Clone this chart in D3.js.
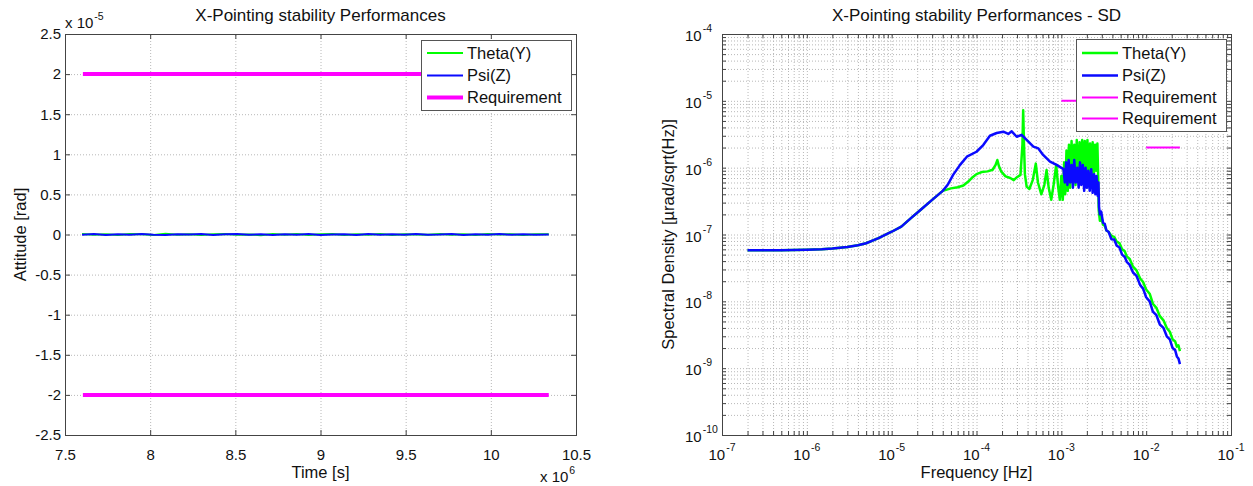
<!DOCTYPE html>
<html>
<head>
<meta charset="utf-8">
<script src="https://cdn.jsdelivr.net/npm/d3@7"></script>
<style>
  body { margin: 0; background: #fff; }
  svg { display: block; font-family: "Liberation Sans", Arial, Helvetica, sans-serif; }
</style>
</head>
<body>
<svg id="chart" width="1253" height="486"></svg>
<script>
// ---------------- data: attitude time history ----------------
const timeSec = [7.60e6, 7.67e6, 7.74e6, 7.81e6, 7.88e6, 7.95e6, 8.02e6, 8.09e6, 8.16e6, 8.23e6,
                 8.30e6, 8.37e6, 8.44e6, 8.51e6, 8.58e6, 8.65e6, 8.72e6, 8.79e6, 8.86e6, 8.93e6,
                 9.00e6, 9.07e6, 9.14e6, 9.21e6, 9.28e6, 9.35e6, 9.42e6, 9.49e6, 9.56e6, 9.63e6,
                 9.70e6, 9.77e6, 9.84e6, 9.91e6, 9.98e6, 10.05e6, 10.12e6, 10.19e6, 10.26e6, 10.34e6];
const thetaAtt = [6e-8, -4e-8, 3e-8, -7e-8, 5e-8, 2e-8, -5e-8, 8e-8, -3e-8, 4e-8,
                  -6e-8, 2e-8, 7e-8, -4e-8, 1e-8, -8e-8, 5e-8, -2e-8, 6e-8, -5e-8,
                  3e-8, 7e-8, -6e-8, 2e-8, -3e-8, 5e-8, -7e-8, 4e-8, 1e-8, -4e-8,
                  6e-8, -2e-8, 3e-8, -6e-8, 5e-8, -1e-8, 4e-8, -5e-8, 2e-8, 3e-8];
const psiAtt = [-3e-8, 5e-8, -6e-8, 2e-8, -4e-8, 7e-8, -2e-8, -5e-8, 4e-8, -1e-8,
                6e-8, -7e-8, 3e-8, 5e-8, -4e-8, 2e-8, -6e-8, 4e-8, -3e-8, 7e-8,
                -5e-8, 1e-8, 4e-8, -6e-8, 5e-8, -2e-8, 3e-8, -4e-8, 6e-8, -3e-8,
                -1e-8, 5e-8, -5e-8, 2e-8, -3e-8, 6e-8, -4e-8, 3e-8, -2e-8, 1e-8];
const attRequirement = [2e-5, -2e-5];
const reqTimeSpan = [7.605e6, 10.34e6];
const timeTickLabels = ["7.5", "8", "8.5", "9", "9.5", "10", "10.5"];      // x 10^6 s
const attTickLabels = ["-2.5", "-2", "-1.5", "-1", "-0.5", "0", "0.5", "1", "1.5", "2", "2.5"]; // x 10^-5 rad

// ---------------- data: spectral density ----------------
const thetaFreq = [2e-7, 3e-7, 5e-7, 7e-7, 1e-6, 1.5e-6, 2e-6, 3e-6, 4e-6, 5e-6, 7e-6, 1e-5, 1.3e-5, 1.7e-5, 2.2e-5, 3e-5, 4e-5,
  5e-5, 6e-5, 7e-5, 8e-5, 9e-5, 1e-4, 1.15e-4, 1.35e-4, 1.55e-4, 1.68e-4, 1.76e-4, 1.84e-4, 1.95e-4, 2.2e-4, 2.5e-4, 2.75e-4,
  3.0e-4, 3.3e-4, 3.48e-4, 3.55e-4, 3.62e-4, 3.72e-4, 3.9e-4, 4.2e-4, 4.6e-4, 5.0e-4, 5.3e-4, 5.8e-4, 6.3e-4, 6.7e-4, 7.1e-4,
  7.6e-4, 8.1e-4, 8.7e-4, 9.2e-4, 9.6e-4, 1.0e-3, 1.04e-3, 1.08e-3, 1.11e-3, 1.15e-3, 1.19e-3, 1.23e-3, 1.27e-3, 1.32e-3,
  1.37e-3, 1.42e-3, 1.47e-3, 1.52e-3, 1.58e-3, 1.64e-3, 1.70e-3, 1.76e-3, 1.82e-3, 1.89e-3, 1.96e-3, 2.03e-3, 2.10e-3,
  2.18e-3, 2.26e-3, 2.34e-3, 2.42e-3, 2.50e-3, 2.58e-3, 2.66e-3, 2.72e-3, 2.76e-3, 2.85e-3, 2.95e-3, 3.1e-3, 3.25e-3,
  3.4e-3, 3.6e-3, 3.9e-3, 4.2e-3, 4.5e-3, 4.85e-3, 5.2e-3, 5.6e-3, 5.9e-3, 6.4e-3, 7e-3, 7.7e-3, 8.5e-3, 9.2e-3, 1e-2,
  1.1e-2, 1.2e-2, 1.32e-2, 1.45e-2, 1.6e-2, 1.75e-2, 1.9e-2, 2.05e-2, 2.2e-2, 2.3e-2, 2.4e-2, 2.5e-2];
const thetaSD = [5.8e-8, 5.8e-8, 5.8e-8, 5.85e-8, 5.9e-8, 6.0e-8, 6.15e-8, 6.5e-8, 6.9e-8, 7.4e-8, 8.8e-8, 1.1e-7, 1.31e-7, 1.77e-7, 2.35e-7, 3.3e-7, 4.5e-7,
  4.9e-7, 5.1e-7, 5.4e-7, 6.2e-7, 7.2e-7, 8.0e-7, 8.6e-7, 8.8e-7, 9.3e-7, 1.1e-6, 1.3e-6, 1.05e-6, 8.8e-7, 7.4e-7, 7.0e-7, 6.5e-7,
  7.2e-7, 7.8e-7, 2.2e-6, 7.2e-6, 2.5e-6, 8e-7, 5.2e-7, 4.8e-7, 6.5e-7, 1.15e-6, 6e-7, 4e-7, 5.5e-7, 9.2e-7, 5e-7,
  3.3e-7, 5.5e-7, 1.1e-6, 5e-7, 3.3e-7, 7.5e-7, 3.3e-7, 1.2e-6, 4e-7, 1.8e-6, 4.5e-7, 2.2e-6, 5e-7, 2.5e-6,
  6e-7, 2.2e-6, 5.5e-7, 2.6e-6, 6.5e-7, 2.4e-6, 7e-7, 2.6e-6, 6e-7, 2.5e-6, 8e-7, 2.6e-6, 7e-7,
  2.3e-6, 6.5e-7, 2.4e-6, 8e-7, 2.2e-6, 9e-7, 2.3e-6, 7e-7, 2.3e-7, 1.6e-7, 1.9e-7, 1.4e-7, 1.35e-7,
  1.15e-7, 1.1e-7, 9.5e-8, 9.2e-8, 7.8e-8, 7.4e-8, 6.0e-8, 5.6e-8, 4.7e-8, 4.3e-8, 3.3e-8, 2.9e-8, 2.2e-8, 1.95e-8, 1.5e-8,
  1.3e-8, 9.2e-9, 8.0e-9, 6.0e-9, 5.2e-9, 4.0e-9, 3.5e-9, 2.7e-9, 2.5e-9, 2.1e-9, 2.2e-9, 1.8e-9];

const psiFreq = [2e-7, 3e-7, 5e-7, 7e-7, 1e-6, 1.5e-6, 2e-6, 3e-6, 4e-6, 5e-6, 7e-6, 1e-5, 1.3e-5, 1.7e-5, 2.2e-5, 3e-5, 4e-5,
  4.6e-5, 5.3e-5, 6.4e-5, 7.7e-5, 1e-4, 1.2e-4, 1.44e-4, 1.73e-4, 2.07e-4, 2.37e-4, 2.6e-4, 2.98e-4, 3.4e-4, 3.9e-4, 4.68e-4,
  5.36e-4, 6.1e-4, 7.36e-4, 8.8e-4, 1.06e-3, 1.10e-3, 1.14e-3, 1.18e-3, 1.22e-3, 1.27e-3, 1.32e-3, 1.37e-3, 1.42e-3, 1.48e-3,
  1.54e-3, 1.60e-3, 1.66e-3, 1.72e-3, 1.79e-3, 1.86e-3, 1.93e-3, 2.00e-3, 2.08e-3, 2.16e-3, 2.25e-3, 2.34e-3, 2.43e-3, 2.52e-3,
  2.60e-3, 2.68e-3, 2.74e-3, 2.78e-3, 2.85e-3, 2.95e-3, 3.1e-3, 3.25e-3, 3.4e-3, 3.6e-3, 3.9e-3, 4.2e-3, 4.5e-3, 4.85e-3,
  5.2e-3, 5.6e-3, 5.9e-3, 6.4e-3, 7e-3, 7.7e-3, 8.5e-3, 9.2e-3, 1e-2, 1.1e-2, 1.2e-2, 1.32e-2, 1.45e-2, 1.6e-2, 1.75e-2,
  1.9e-2, 2.05e-2, 2.2e-2, 2.3e-2, 2.4e-2, 2.5e-2];
const psiSD = [5.8e-8, 5.8e-8, 5.8e-8, 5.85e-8, 5.9e-8, 6.0e-8, 6.15e-8, 6.5e-8, 6.9e-8, 7.4e-8, 8.8e-8, 1.1e-7, 1.31e-7, 1.77e-7, 2.35e-7, 3.3e-7, 4.5e-7,
  5.6e-7, 7.8e-7, 1.1e-6, 1.46e-6, 1.73e-6, 2.18e-6, 3.0e-6, 3.3e-6, 3.45e-6, 3.2e-6, 3.5e-6, 2.9e-6, 3.1e-6, 2.6e-6, 2.06e-6,
  1.94e-6, 1.55e-6, 1.23e-6, 1.1e-6, 9.5e-7, 6e-7, 1.2e-6, 5.5e-7, 1.3e-6, 6e-7, 1.1e-6, 5e-7, 1.3e-6, 6e-7,
  1.0e-6, 5e-7, 1.2e-6, 5.5e-7, 1.1e-6, 4.5e-7, 1.0e-6, 5e-7, 9e-7, 4.5e-7, 9.5e-7, 4.2e-7, 8e-7, 4e-7,
  7.5e-7, 3.8e-7, 6e-7, 2.6e-7, 2.0e-7, 2.2e-7, 1.5e-7, 1.45e-7, 1.15e-7, 1.1e-7, 8.5e-8, 8.4e-8, 6.8e-8, 6.4e-8,
  5.0e-8, 4.6e-8, 3.9e-8, 3.5e-8, 2.7e-8, 2.4e-8, 1.75e-8, 1.55e-8, 1.15e-8, 1.0e-8, 7.0e-9, 6.2e-9, 4.5e-9, 4.0e-9, 3.0e-9,
  2.7e-9, 2.0e-9, 1.85e-9, 1.5e-9, 1.4e-9, 1.15e-9];

const sdReqFreqA = [1e-3, 1e-2];   const sdReqLevelA = 1e-5;
const sdReqFreqB = [1e-2, 2.5e-2]; const sdReqLevelB = 2e-6;
const freqExponents = [-7, -6, -5, -4, -3, -2, -1];
const sdExponents = [-10, -9, -8, -7, -6, -5, -4];

// ---------------- layout ----------------
const svg = d3.select("#chart");
const GREEN = "#00ff00", BLUE = "#0a0aff", MAGENTA = "#ff00ff";
const AXIS = "#444", GRID = "#b8b8b8";
const L = { x0: 65, x1: 576, y0: 34, y1: 435 };
const R = { x0: 722, x1: 1231, y0: 34, y1: 435 };

// ================= left panel: attitude =================
const xL = d3.scaleLinear().domain([7.5e6, 10.5e6]).range([L.x0, L.x1]);
const yL = d3.scaleLinear().domain([-2.5e-5, 2.5e-5]).range([L.y1, L.y0]);
const timeTicks = timeTickLabels.map(s => +s * 1e6);
const attTicks = attTickLabels.map(s => +s * 1e-5);

const gL = svg.append("g");
// grid
gL.append("g").attr("transform", `translate(0,${L.y1})`)
  .call(d3.axisBottom(xL).tickValues(timeTicks.slice(1, -1)).tickSize(-(L.y1 - L.y0)).tickFormat(""))
  .call(g => g.select(".domain").remove())
  .selectAll("line").attr("stroke", GRID).attr("stroke-dasharray", "1,2");
gL.append("g").attr("transform", `translate(${L.x0},0)`)
  .call(d3.axisLeft(yL).tickValues(attTicks.slice(1, -1)).tickSize(-(L.x1 - L.x0)).tickFormat(""))
  .call(g => g.select(".domain").remove())
  .selectAll("line").attr("stroke", GRID).attr("stroke-dasharray", "1,2");

// requirement bounds
attRequirement.forEach(r => {
  gL.append("line")
    .attr("x1", xL(reqTimeSpan[0])).attr("x2", xL(reqTimeSpan[1]))
    .attr("y1", yL(r)).attr("y2", yL(r))
    .attr("stroke", MAGENTA).attr("stroke-width", 4);
});
// attitude series
const lineL = d3.line().x((d, i) => xL(timeSec[i])).y(d => yL(d));
gL.append("path").datum(thetaAtt).attr("d", lineL).attr("fill", "none").attr("stroke", GREEN).attr("stroke-width", 2);
gL.append("path").datum(psiAtt).attr("d", lineL).attr("fill", "none").attr("stroke", BLUE).attr("stroke-width", 2);

// axes with inward ticks
const fsTick = 15;
gL.append("g").attr("transform", `translate(0,${L.y1})`)
  .call(d3.axisBottom(xL).tickValues(timeTicks).tickSize(-5).tickPadding(14).tickFormat((d, i) => timeTickLabels[i]))
  .call(g => g.select(".domain").remove())
  .call(g => g.selectAll("text").attr("font-size", fsTick).attr("fill", "#111").attr("font-family", null))
  .selectAll("line").attr("stroke", AXIS);
gL.append("g").attr("transform", `translate(0,${L.y0})`)
  .call(d3.axisTop(xL).tickValues(timeTicks).tickSize(-5).tickFormat(""))
  .call(g => g.select(".domain").remove())
  .selectAll("line").attr("stroke", AXIS);
gL.append("g").attr("transform", `translate(${L.x0},0)`)
  .call(d3.axisLeft(yL).tickValues(attTicks).tickSize(-5).tickPadding(4).tickFormat((d, i) => attTickLabels[i]))
  .call(g => g.select(".domain").remove())
  .call(g => g.selectAll("text").attr("font-size", fsTick).attr("fill", "#111").attr("font-family", null))
  .selectAll("line").attr("stroke", AXIS);
gL.append("g").attr("transform", `translate(${L.x1},0)`)
  .call(d3.axisRight(yL).tickValues(attTicks).tickSize(-5).tickFormat(""))
  .call(g => g.select(".domain").remove())
  .selectAll("line").attr("stroke", AXIS);
gL.append("rect").attr("x", L.x0 + 0.5).attr("y", L.y0 + 0.5)
  .attr("width", L.x1 - L.x0).attr("height", L.y1 - L.y0)
  .attr("fill", "none").attr("stroke", AXIS);

// exponent annotations
const expoTxt = (g, x, y, base, sup) => {
  const t = g.append("text").attr("x", x).attr("y", y).attr("font-size", fsTick).attr("fill", "#111");
  t.append("tspan").text(base);
  t.append("tspan").attr("dy", -8).attr("dx", 1).attr("font-size", 10.5).text(sup);
  return t;
};
expoTxt(gL, L.x0, 28, "x 10", "-5");
expoTxt(gL, 540, 482, "x 10", "6");

// titles / labels
gL.append("text").attr("x", (L.x0 + L.x1) / 2).attr("y", 21).attr("text-anchor", "middle")
  .attr("font-size", 17).attr("fill", "#111").text("X-Pointing stability Performances");
gL.append("text").attr("x", (L.x0 + L.x1) / 2).attr("y", 478).attr("text-anchor", "middle")
  .attr("font-size", 16.5).attr("fill", "#111").text("Time [s]");
gL.append("text").attr("transform", `translate(26,${(L.y0 + L.y1) / 2}) rotate(-90)`).attr("text-anchor", "middle")
  .attr("font-size", 16.5).attr("fill", "#111").text("Attitude [rad]");

// legend
function legend(g, x, y, w, h, items, rowY) {
  g.append("rect").attr("x", x + 0.5).attr("y", y + 0.5).attr("width", w).attr("height", h)
    .attr("fill", "#fff").attr("stroke", "#555");
  items.forEach((it, i) => {
    const yy = rowY[i];
    g.append("line").attr("x1", x + 6).attr("x2", x + 42).attr("y1", yy).attr("y2", yy)
      .attr("stroke", it.color).attr("stroke-width", it.width);
    g.append("text").attr("x", x + 46).attr("y", yy).attr("dy", "0.36em")
      .attr("font-size", 16.5).attr("fill", "#111").text(it.label);
  });
}
legend(gL, 421, 40, 150, 70, [
  { label: "Theta(Y)", color: GREEN, width: 2 },
  { label: "Psi(Z)", color: BLUE, width: 2 },
  { label: "Requirement", color: MAGENTA, width: 4 }
], [53, 75.5, 97.5]);

// ================= right panel: spectral density =================
const xR = d3.scaleLog().domain([1e-7, 1e-1]).range([R.x0, R.x1]);
const yR = d3.scaleLog().domain([1e-10, 1e-4]).range([R.y1, R.y0]);
const gR = svg.append("g");
const xTicksAll = xR.ticks();
const yTicksAll = yR.ticks();
const inner = (arr, dom) => arr.filter(v => v > dom[0] * 1.0001 && v < dom[1] * 0.9999);

gR.append("g").attr("transform", `translate(0,${R.y1})`)
  .call(d3.axisBottom(xR).tickValues(inner(xTicksAll, xR.domain())).tickSize(-(R.y1 - R.y0)).tickFormat(""))
  .call(g => g.select(".domain").remove())
  .selectAll("line").attr("stroke", GRID).attr("stroke-dasharray", "1,2");
gR.append("g").attr("transform", `translate(${R.x0},0)`)
  .call(d3.axisLeft(yR).tickValues(inner(yTicksAll, yR.domain())).tickSize(-(R.x1 - R.x0)).tickFormat(""))
  .call(g => g.select(".domain").remove())
  .selectAll("line").attr("stroke", GRID).attr("stroke-dasharray", "1,2");

// spectra
const lineTheta = d3.line().x((d, i) => xR(thetaFreq[i])).y(d => yR(d));
const linePsi = d3.line().x((d, i) => xR(psiFreq[i])).y(d => yR(d));
gR.append("path").datum(thetaSD).attr("d", lineTheta).attr("fill", "none")
  .attr("stroke", GREEN).attr("stroke-width", 2.5).attr("stroke-linejoin", "round");
gR.append("path").datum(psiSD).attr("d", linePsi).attr("fill", "none")
  .attr("stroke", BLUE).attr("stroke-width", 2.5).attr("stroke-linejoin", "round");

// requirement segments
[[sdReqFreqA, sdReqLevelA], [sdReqFreqB, sdReqLevelB]].forEach(([f, v]) => {
  gR.append("line").attr("x1", xR(f[0])).attr("x2", xR(f[1])).attr("y1", yR(v)).attr("y2", yR(v))
    .attr("stroke", MAGENTA).attr("stroke-width", 2);
});

// inward ticks on all sides
[["axisBottom", R.y1, xR, xTicksAll], ["axisTop", R.y0, xR, xTicksAll]].forEach(([fn, pos, sc, tv]) => {
  gR.append("g").attr("transform", `translate(0,${pos})`)
    .call(d3[fn](sc).tickValues(tv).tickSize(-4).tickFormat(""))
    .call(g => g.select(".domain").remove())
    .selectAll("line").attr("stroke", AXIS);
});
[["axisLeft", R.x0, yR, yTicksAll], ["axisRight", R.x1, yR, yTicksAll]].forEach(([fn, pos, sc, tv]) => {
  gR.append("g").attr("transform", `translate(${pos},0)`)
    .call(d3[fn](sc).tickValues(tv).tickSize(-4).tickFormat(""))
    .call(g => g.select(".domain").remove())
    .selectAll("line").attr("stroke", AXIS);
});
gR.append("rect").attr("x", R.x0 + 0.5).attr("y", R.y0 + 0.5)
  .attr("width", R.x1 - R.x0).attr("height", R.y1 - R.y0)
  .attr("fill", "none").attr("stroke", AXIS);

// power-of-ten tick labels
freqExponents.forEach(e => {
  const t = gR.append("text").attr("x", xR(Math.pow(10, e))).attr("y", 460)
    .attr("text-anchor", "middle").attr("font-size", fsTick).attr("fill", "#111");
  t.append("tspan").text("10");
  t.append("tspan").attr("dy", -9).attr("dx", 1).attr("font-size", 10.5).text(String(e));
});
sdExponents.forEach(e => {
  const y = yR(Math.pow(10, e));
  const t = gR.append("text").attr("x", 685).attr("y", y + 7)
    .attr("font-size", fsTick).attr("fill", "#111");
  t.append("tspan").text("10");
  t.append("tspan").attr("dy", -9).attr("dx", 1).attr("font-size", 10.5).text(String(e));
});

gR.append("text").attr("x", (R.x0 + R.x1) / 2).attr("y", 21).attr("text-anchor", "middle")
  .attr("font-size", 17).attr("fill", "#111").text("X-Pointing stability Performances - SD");
gR.append("text").attr("x", (R.x0 + R.x1) / 2).attr("y", 478).attr("text-anchor", "middle")
  .attr("font-size", 16.5).attr("fill", "#111").text("Frequency [Hz]");
gR.append("text").attr("transform", `translate(674,${(R.y0 + R.y1) / 2}) rotate(-90)`).attr("text-anchor", "middle")
  .attr("font-size", 16.5).attr("fill", "#111").text("Spectral Density [µrad/sqrt(Hz)]");

legend(gR, 1076, 39, 150, 92, [
  { label: "Theta(Y)", color: GREEN, width: 2.5 },
  { label: "Psi(Z)", color: BLUE, width: 2.5 },
  { label: "Requirement", color: MAGENTA, width: 2 },
  { label: "Requirement", color: MAGENTA, width: 2 }
], [53, 75.5, 97.5, 118.5]);
</script>
</body>
</html>
